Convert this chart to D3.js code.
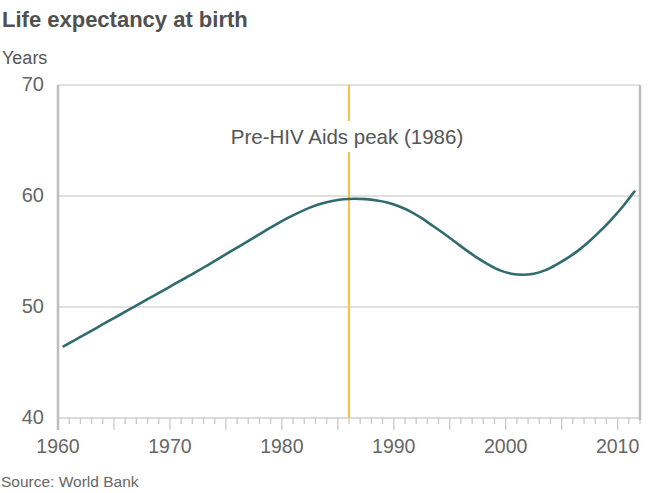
<!DOCTYPE html>
<html><head><meta charset="utf-8">
<script src="https://cdn.jsdelivr.net/npm/d3@7"></script>
<style>
body{margin:0;background:#fff;}
svg{display:block;font-family:"Liberation Sans",Arial,Helvetica,sans-serif;}
</style></head>
<body>
<svg id="c" width="660" height="493"></svg>
<script>
const years = d3.range(1960, 2012);
const lifeExpectancy = [46.45,47.02,47.58,48.15,48.72,49.28,49.85,50.42,50.98,51.55,
 52.12,52.68,53.25,53.85,54.45,55.05,55.65,56.25,56.85,57.45,
 58.0,58.5,58.95,59.3,59.55,59.7,59.75,59.72,59.6,59.4,
 59.05,58.6,58.0,57.3,56.6,55.85,55.1,54.4,53.8,53.3,
 53.0,52.9,53.0,53.3,53.8,54.4,55.1,55.95,56.9,57.95,
 59.1,60.4];
const yTicks = [40,50,60,70];
const xTicks = [1960,1970,1980,1990,2000,2010];
const peakYear = 1986;
const peakLabel = "Pre-HIV Aids peak (1986)";
const title = "Life expectancy at birth";
const unit = "Years";
const source = "Source: World Bank";

const svg = d3.select("#c");
const L = 58, R = 640, T = 85, B = 418;
const x = d3.scaleLinear().domain([1960, 2012]).range([L, R]);
const y = d3.scaleLinear().domain([40, 70]).range([B, T]);

// title etc
svg.append("text").attr("x",2).attr("y",27).attr("font-size",22).attr("font-weight","bold")
  .attr("fill","#505050").text(title);
svg.append("text").attr("x",2).attr("y",64).attr("font-size",18).attr("fill","#555").text(unit);
svg.append("text").attr("x",1).attr("y",487).attr("font-size",15.5).attr("fill","#666").text(source);

// gridlines
svg.append("g").selectAll("line").data(yTicks.filter(d=>d>40)).join("line")
  .attr("x1",L).attr("x2",R).attr("y1",d=>y(d)).attr("y2",d=>y(d))
  .attr("stroke","#d6d6d6").attr("stroke-width",1.3);

// y labels
svg.append("g").selectAll("text").data(yTicks).join("text")
  .attr("x",44).attr("y",d=>y(d)+6).attr("text-anchor","end")
  .attr("font-size",20).attr("fill","#666").text(d=>d);

// bottom axis line
svg.append("line").attr("x1",L).attr("x2",R).attr("y1",B).attr("y2",B)
  .attr("stroke","#cfcfcf").attr("stroke-width",1.5);
// ticks
const allTicks = d3.range(1960, 2013);
svg.append("g").selectAll("line").data(allTicks).join("line")
  .attr("x1",d=>x(d)).attr("x2",d=>x(d)).attr("y1",B)
  .attr("y2",d=> d%5===0 ? B+12 : B+6)
  .attr("stroke","#c8c8c8").attr("stroke-width",1.3);
svg.append("g").selectAll("text").data(xTicks).join("text")
  .attr("x",d=>x(d)).attr("y",453).attr("text-anchor","middle")
  .attr("font-size",19.5).attr("fill","#666").text(d=>d);

// side borders
svg.append("line").attr("x1",L).attr("x2",L).attr("y1",T).attr("y2",B+12)
  .attr("stroke","#bdbdbd").attr("stroke-width",2.5);
svg.append("line").attr("x1",R).attr("x2",R).attr("y1",T).attr("y2",B+2)
  .attr("stroke","#bdbdbd").attr("stroke-width",2.5);

// peak line
svg.append("line").attr("x1",x(peakYear)).attr("x2",x(peakYear)).attr("y1",T).attr("y2",B)
  .attr("stroke","#f5c244").attr("stroke-width",2);
svg.append("rect").attr("x",x(peakYear)-6).attr("y",121).attr("width",12).attr("height",31)
  .attr("fill","#fff");
svg.append("text").attr("x",x(peakYear)-2).attr("y",144).attr("text-anchor","middle")
  .attr("font-size",20.5).attr("fill","#555").text(peakLabel);

// curve
const line = d3.line().x((d,i)=>x(years[i]+0.5)).y(d=>y(d)).curve(d3.curveMonotoneX);
svg.append("path").datum(lifeExpectancy).attr("d",line)
  .attr("fill","none").attr("stroke","#306b6d").attr("stroke-width",2.6)
  .attr("stroke-linecap","round");
</script>
</body></html>
